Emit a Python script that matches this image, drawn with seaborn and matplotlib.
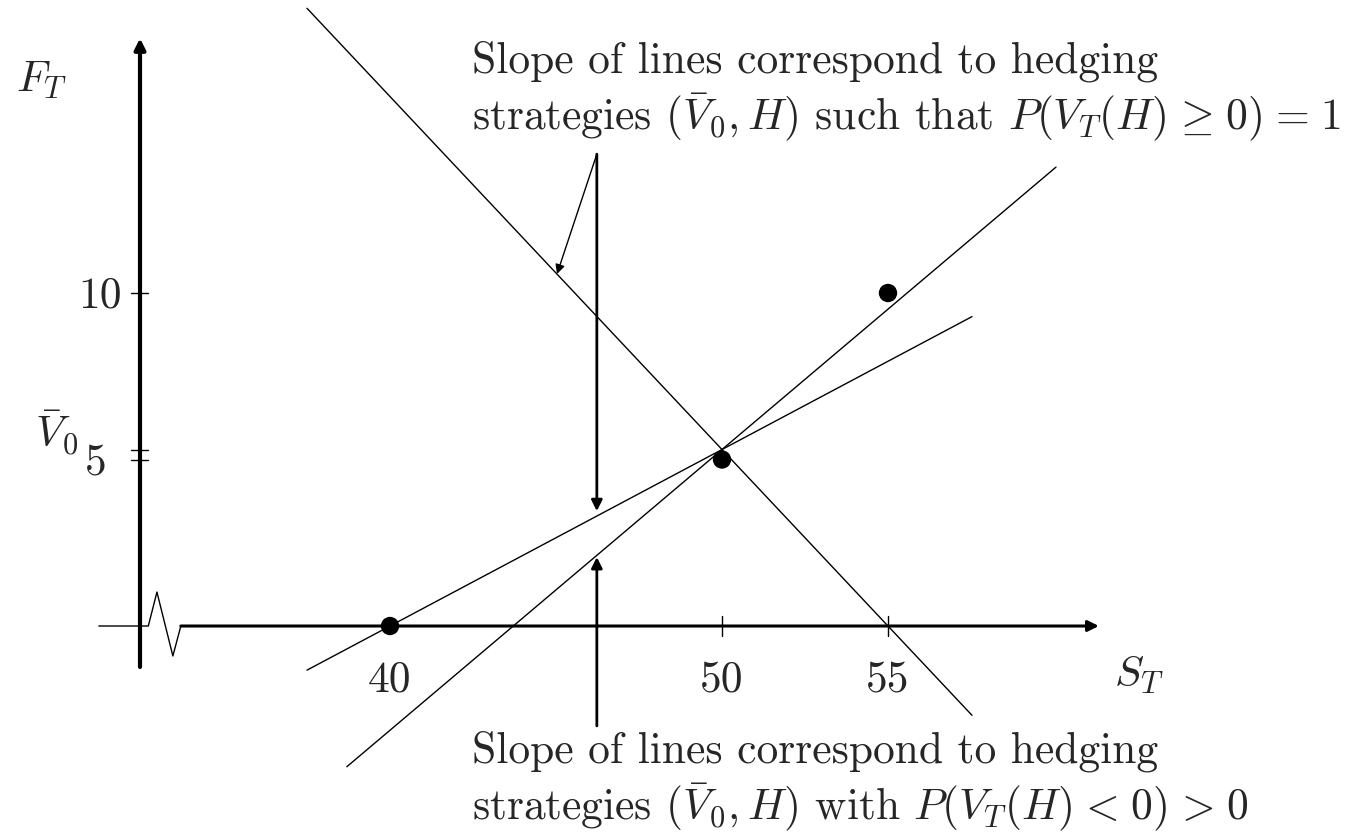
import numpy as np
import pandas as pd
import matplotlib
matplotlib.use("Agg")
import matplotlib.pyplot as plt
import seaborn as sns

# Payoff points (S_T, F_T)
pts_s = [40, 50, 55]
pts_f = [0, 5, 10]

# Initial value of the hedge and the slopes (H) of the three hedging lines
v0_bar = 5.3
s_pivot = 50
slopes = [-1.06, 0.843, 0.53]
line_x_start = [37.5, 38.7, 37.5]
line_x_end = [57.53, 60.06, 57.53]

x_tick_vals = [40, 50, 55]
x_tick_labels = ["40", "50", "55"]
y_tick_vals = [10, 5]
y_tick_labels = ["10", "5"]

SP = r"\hspace{0.1}"
text_top = ["Slope of lines correspond to hedging",
            r"strategies $(\bar{V}_0, H)$ such that "
            rf"$P(V_T(H){SP}\geq{SP}0){SP}={SP}1$"]
text_bottom = ["Slope of lines correspond to hedging",
               r"strategies $(\bar{V}_0, H)$ with "
               rf"$P(V_T(H){SP}<{SP}0){SP}>{SP}0$"]

sns.set_style("white")
plt.rcParams["font.family"] = ["cmr10", "DejaVu Serif"]
plt.rcParams["mathtext.fontset"] = "cm"
plt.rcParams["axes.formatter.use_mathtext"] = True

fig = plt.figure(figsize=(13.52, 8.37), dpi=100)
ax = fig.add_axes([0, 0, 1, 1])
ax.set_xlim(28.253, 68.976)
ax.set_ylim(-6.306, 18.829)
ax.axis("off")

FS = 31.3
LW_THIN = 1.0

# Hedging lines through (50, V0_bar)
rows = []
for i, (m, x0, x1) in enumerate(zip(slopes, line_x_start, line_x_end)):
    for x in (x0, x1):
        rows.append({"S": x, "F": v0_bar + m * (x - s_pivot), "line": i})
lines_df = pd.DataFrame(rows)
sns.lineplot(data=lines_df, x="S", y="F", units="line", estimator=None,
             sort=False, color="black", lw=LW_THIN, ax=ax, legend=False)

# Payoff points
sns.scatterplot(x=pts_s, y=pts_f, color="black", s=175, edgecolor="none",
                ax=ax, zorder=5)

# Vertical axis with arrow
y_axis_x = 32.47
ax.annotate("", xy=(y_axis_x, 17.65), xytext=(y_axis_x, -1.23),
            arrowprops=dict(arrowstyle="-|>", lw=3.0, color="black",
                            mutation_scale=16, shrinkA=0, shrinkB=0))

# Horizontal axis: thin lead-in, break zigzag, thick arrowed axis
ax.plot([31.23, 32.72, 32.98, 33.46, 33.70], [0, 0, 1.02, -0.90, 0],
        color="black", lw=LW_THIN)
ax.annotate("", xy=(61.35, 0), xytext=(33.70, 0),
            arrowprops=dict(arrowstyle="-|>", lw=2.2, color="black",
                            mutation_scale=16, shrinkA=0, shrinkB=0))

# Ticks
for xv in x_tick_vals[1:]:
    ax.plot([xv, xv], [-0.30, 0.30], color="black", lw=LW_THIN)
for yv in y_tick_vals + [v0_bar]:
    ax.plot([32.20, 32.72], [yv, yv], color="black", lw=LW_THIN)

# Tick labels
for xv, lab in zip(x_tick_vals, x_tick_labels):
    ax.text(xv, -1.95, lab, ha="center", va="baseline", fontsize=FS)
ax.text(31.93, 9.58, y_tick_labels[0], ha="right", va="baseline", fontsize=FS)
ax.text(31.45, 4.59, y_tick_labels[1], ha="right", va="baseline", fontsize=FS)
ax.text(29.30, 5.41, r"$\bar{V}_0$", ha="left", va="baseline", fontsize=FS)

# Axis titles
ax.text(28.72, 16.07, r"$F_T$", ha="left", va="baseline", fontsize=FS)
ax.text(61.80, -1.80, r"$S_T$", ha="left", va="baseline", fontsize=FS)

# Annotation texts
ax.text(42.47, 16.64, text_top[0], ha="left", va="baseline", fontsize=FS)
ax.text(42.47, 14.92, text_top[1], ha="left", va="baseline", fontsize=FS)
ax.text(42.47, -4.08, text_bottom[0], ha="left", va="baseline", fontsize=FS)
ax.text(42.47, -5.80, text_bottom[1], ha="left", va="baseline", fontsize=FS)

# Pointer arrows
ax.annotate("", xy=(46.23, 3.45), xytext=(46.23, 14.17),
            arrowprops=dict(arrowstyle="-|>", lw=2.0, color="black",
                            mutation_scale=16, shrinkA=0, shrinkB=0))
ax.annotate("", xy=(45.03, 10.57), xytext=(46.23, 14.17),
            arrowprops=dict(arrowstyle="-|>", lw=1.0, color="black",
                            mutation_scale=14, shrinkA=0, shrinkB=0))
ax.annotate("", xy=(46.23, 2.07), xytext=(46.23, -3.0),
            arrowprops=dict(arrowstyle="-|>", lw=2.0, color="black",
                            mutation_scale=16, shrinkA=0, shrinkB=0))

fig.savefig("out.png", dpi=100, facecolor="white")
